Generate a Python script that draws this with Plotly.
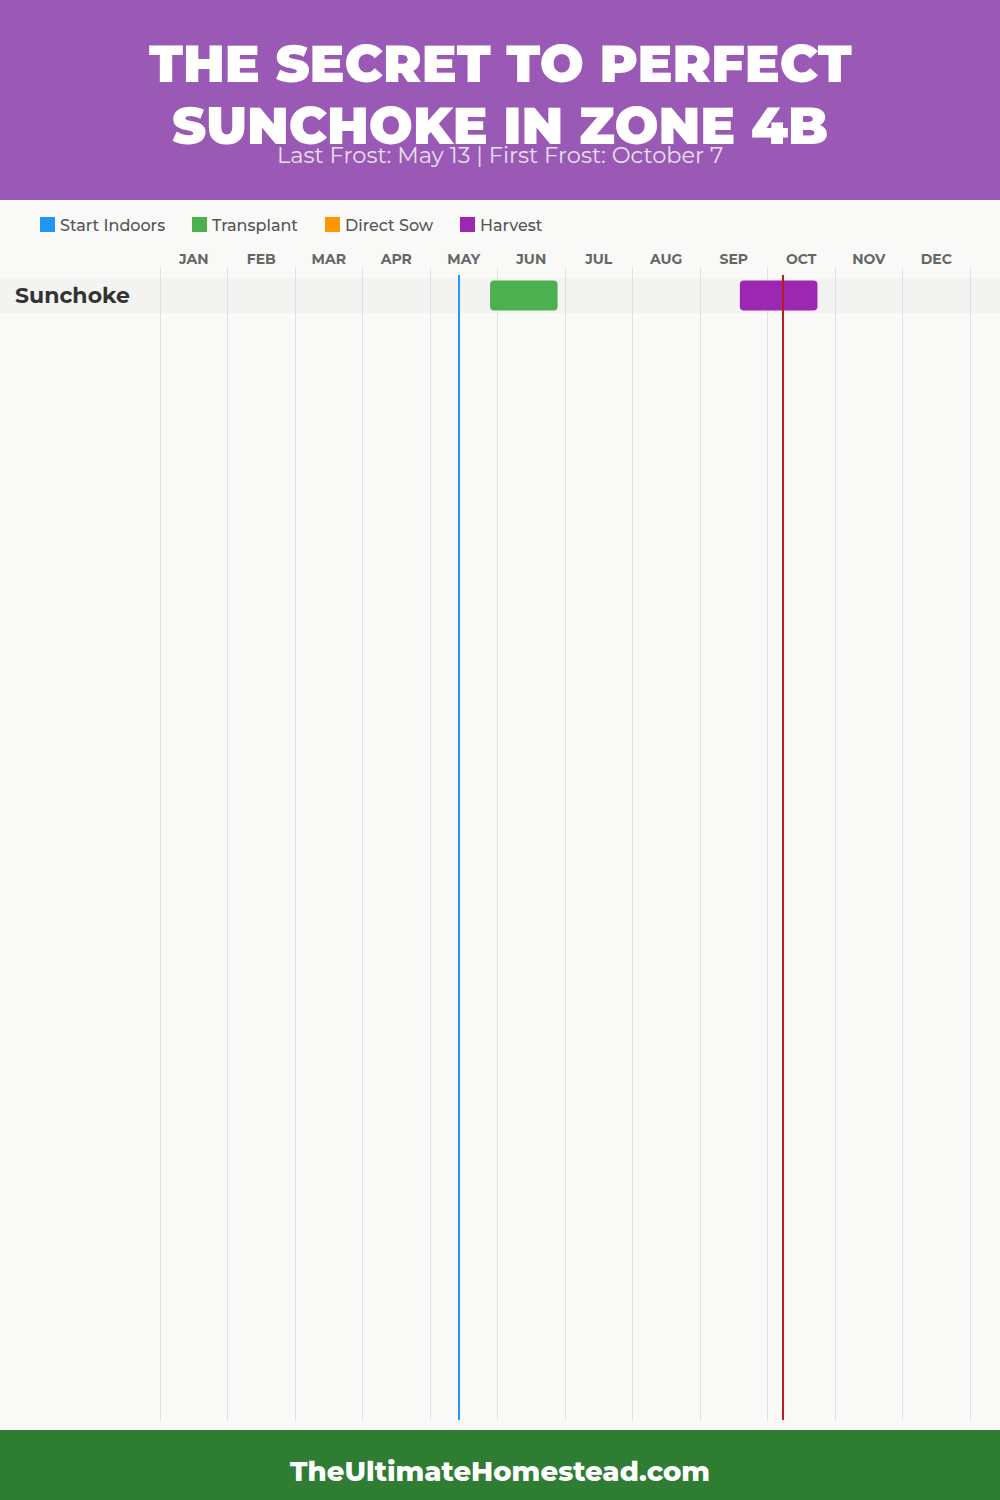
import plotly.graph_objects as go

# ---------------- data ----------------
months = ["JAN", "FEB", "MAR", "APR", "MAY", "JUN", "JUL", "AUG", "SEP", "OCT", "NOV", "DEC"]
crops = ["Sunchoke"]
series_names = ["Start Indoors", "Transplant", "Direct Sow", "Harvest"]
series_colors = ["#2196F3", "#4CAF50", "#FF9800", "#9C27B0"]
# month-position values (0 = Jan 1, 12 = Dec 31)
start_indoors = [None]
transplant_start = [4.89]
transplant_end = [5.89]
direct_sow = [None]
harvest_start = [8.59]
harvest_end = [9.74]
last_frost = 4.43    # May 13
first_frost = 9.23   # October 7

title_lines = ["THE SECRET TO PERFECT", "SUNCHOKE IN ZONE 4B"]
subtitle = "Last Frost: May 13 | First Frost: October 7"
footer = "TheUltimateHomestead.com"

W, H = 1000, 1500
def py(px):  # pixel from top -> paper y
    return 1 - px / H

FONT = "Montserrat, Inter, 'Open Sans', sans-serif"

# axis geometry
plot_left_px, plot_right_px = 160, 970
mw = (plot_right_px - plot_left_px) / 12.0
x_range = [-plot_left_px / mw, 12 + (W - plot_right_px) / mw]
top_px, bot_px = 268, 1420
row_h = 35.0
row_center_px = 295.5
y_top = -(row_center_px - top_px) / row_h
y_bot = y_top + (bot_px - top_px) / row_h

fig = go.Figure()
fig.add_trace(go.Bar(
    y=list(range(len(crops))), x=[e - s for s, e in zip(transplant_start, transplant_end)],
    base=transplant_start, orientation="h", width=30 / row_h,
    marker=dict(color=series_colors[1], line=dict(width=0)), name=series_names[1],
    showlegend=False, hoverinfo="skip"))
fig.add_trace(go.Bar(
    y=list(range(len(crops))), x=[e - s for s, e in zip(harvest_start, harvest_end)],
    base=harvest_start, orientation="h", width=30 / row_h,
    marker=dict(color=series_colors[3], line=dict(width=0)), name=series_names[3],
    showlegend=False, hoverinfo="skip"))

shapes = []
# header & footer bands
shapes.append(dict(type="rect", xref="paper", yref="paper", x0=0, x1=1, y0=py(200), y1=1,
                   fillcolor="#9B59B6", line=dict(width=0), layer="below"))
shapes.append(dict(type="rect", xref="paper", yref="paper", x0=0, x1=1, y0=0, y1=py(1430),
                   fillcolor="#2E7D32", line=dict(width=0), layer="below"))
# row bands
for i, _ in enumerate(crops):
    shapes.append(dict(type="rect", xref="paper", yref="y", x0=0, x1=1, y0=i - 0.5, y1=i + 0.5,
                       fillcolor="#F3F3F2", line=dict(width=0), layer="between"))
# frost lines
y_line_top = (bot_px - 275) / (bot_px - top_px)
shapes.append(dict(type="line", xref="x", yref="y domain", x0=last_frost, x1=last_frost,
                   y0=0, y1=y_line_top, line=dict(color="#2196F3", width=2), layer="above"))
shapes.append(dict(type="line", xref="x", yref="y domain", x0=first_frost, x1=first_frost,
                   y0=0, y1=y_line_top, line=dict(color="#B71C1C", width=2), layer="above"))

annotations = []
# title
for k, line in enumerate(title_lines):
    annotations.append(dict(text=line, xref="paper", yref="paper", x=0.5, y=py(63 + 62 * k),
                            xanchor="center", yanchor="middle", showarrow=False,
                            font=dict(family=FONT, size=52, color="white", weight=900)))
annotations.append(dict(text=subtitle, xref="paper", yref="paper", x=0.5, y=py(155),
                        xanchor="center", yanchor="middle", showarrow=False,
                        font=dict(family=FONT, size=22.5, color="#E6E0EA")))
annotations.append(dict(text=footer, xref="paper", yref="paper", x=0.5, y=py(1471),
                        xanchor="center", yanchor="middle", showarrow=False,
                        font=dict(family=FONT, size=27.5, color="white", weight=800)))
# custom legend
legend_x = [40, 192, 325, 460]
for name, color, lx in zip(series_names, series_colors, legend_x):
    shapes.append(dict(type="rect", xref="paper", yref="paper", x0=lx / W, x1=(lx + 15) / W,
                       y0=py(232), y1=py(217), fillcolor=color, line=dict(width=0)))
    annotations.append(dict(text=name, xref="paper", yref="paper", x=(lx + 18) / W, y=py(225),
                            xanchor="left", yanchor="middle", showarrow=False,
                            font=dict(family=FONT, size=16, color="#555555", weight=500)))
# crop labels
for i, c in enumerate(crops):
    annotations.append(dict(text=c, xref="paper", yref="y", x=13 / W, y=i,
                            xanchor="left", yanchor="middle", showarrow=False,
                            font=dict(family=FONT, size=22, color="#333333", weight=700)))

fig.update_layout(
    width=W, height=H, margin=dict(l=0, r=0, t=0, b=0),
    paper_bgcolor="#F9F9F7", plot_bgcolor="#F9F9F7",
    showlegend=False, barmode="overlay", barcornerradius=4,
    shapes=shapes, annotations=annotations,
    xaxis=dict(range=x_range, side="top", tickmode="array",
               tickvals=[i + 0.5 for i in range(12)], ticktext=months,
               showgrid=False, zeroline=False, showline=False, ticks="",
               tickfont=dict(family=FONT, size=14, color="#666666", weight=700),
               minor=dict(tickmode="array", tickvals=list(range(13)), showgrid=True,
                          gridcolor="#E0E0E0", gridwidth=1, ticks=""),
               fixedrange=True),
    yaxis=dict(range=[y_bot, y_top], domain=[py(bot_px), py(top_px)],
               showgrid=False, zeroline=False, showticklabels=False, showline=False,
               fixedrange=True),
)

fig.write_html("out.html", config={"displayModeBar": False},
               post_script="document.body.style.margin='0';document.body.style.overflow='hidden';")
